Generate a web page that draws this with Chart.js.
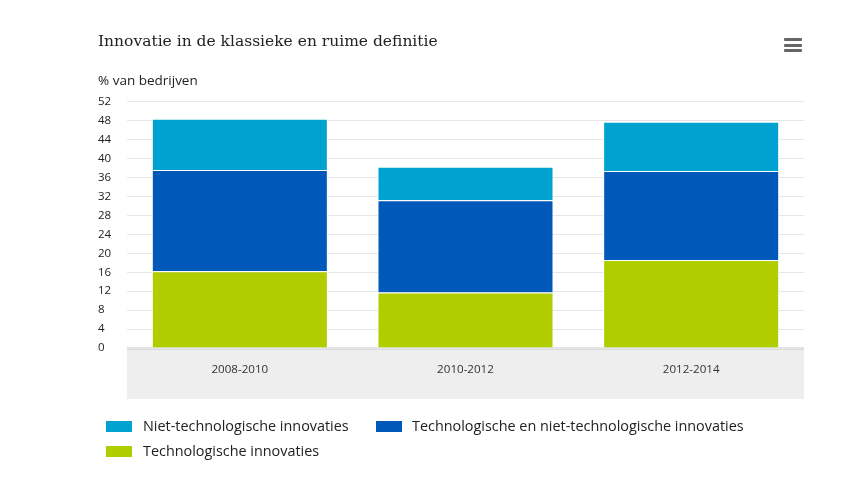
<!DOCTYPE html>
<html lang="nl">
<head>
    <meta charset="UTF-8">
    <title>Innovatie in de klassieke en ruime definitie</title>
    <script src="https://cdn.jsdelivr.net/npm/chart.js"></script>
    <style>
        html, body { margin: 0; padding: 0; background: #fff; }
        #wrap { position: relative; width: 841px; height: 489px; overflow: hidden; }
        canvas { position: absolute; left: 0; top: 0; }
        #menu { position: absolute; left: 784px; top: 38px; width: 18px; }
        #menu span { display: block; height: 3px; margin-bottom: 2.5px; background: #666; border-radius: 1px; }
        .leg { position: absolute; font: 14.4px "Open Sans", sans-serif; color: #222; white-space: nowrap; line-height: 20px; }
        .leg i { position: absolute; left: 0; top: 5px; width: 26px; height: 11px; }
    </style>
</head>
<body>
<div id="wrap">
    <canvas id="chart" width="841" height="489"></canvas>
    <div id="menu"><span></span><span></span><span></span></div>
</div>
<script>
    const periods = ['2008-2010', '2010-2012', '2012-2014'];
    const techValues = [16.2, 11.7, 18.6];
    const bothValues = [21.4, 19.5, 18.8];
    const nonTechValues = [10.8, 7.1, 10.4];

    const techLabel = 'Technologische innovaties';
    const bothLabel = 'Technologische en niet-technologische innovaties';
    const nonTechLabel = 'Niet-technologische innovaties';

    const techColor = '#b0cd00';
    const bothColor = '#0059b8';
    const nonTechColor = '#00a3d0';

    // grey band below the axis, behind the year labels
    const bandPlugin = {
        id: 'band',
        beforeDraw(chart) {
            const a = chart.chartArea;
            const c = chart.ctx;
            c.save();
            c.fillStyle = '#eeeeee';
            c.fillRect(a.left, a.bottom, a.right - a.left, 51);
            c.fillStyle = '#c8c8c8';
            c.fillRect(a.left, a.bottom - 0.5, a.right - a.left, 2);
            c.restore();
        }
    };

    function bars(label, data, color) {
        return {
            label: label,
            data: data,
            backgroundColor: color,
            borderColor: '#ffffff',
            borderWidth: 1,
            barPercentage: 0.78,
            categoryPercentage: 1
        };
    }

    new Chart(document.getElementById('chart'), {
        type: 'bar',
        data: {
            labels: periods,
            datasets: [
                bars(techLabel, techValues, techColor),
                bars(bothLabel, bothValues, bothColor),
                bars(nonTechLabel, nonTechValues, nonTechColor)
            ]
        },
        plugins: [bandPlugin],
        options: {
            responsive: false,
            animation: false,
            layout: { padding: { left: 98, right: 37, top: 33, bottom: 90 } },
            plugins: {
                legend: { display: false },
                tooltip: { enabled: false },
                title: {
                    display: true,
                    text: 'Innovatie in de klassieke en ruime definitie',
                    align: 'start',
                    color: '#222',
                    font: { family: 'DejaVu Serif', size: 15.5, weight: 'normal' },
                    padding: { top: 0, bottom: 21 }
                },
                subtitle: {
                    display: true,
                    text: '% van bedrijven',
                    align: 'start',
                    color: '#222',
                    font: { family: 'Open Sans', size: 13.5, weight: 'normal' },
                    padding: { top: 0, bottom: 13 }
                }
            },
            scales: {
                x: {
                    stacked: true,
                    grid: { display: false },
                    border: { display: false },
                    afterFit(axis) { axis.height = 51; },
                    ticks: {
                        color: '#333',
                        padding: 7,
                        maxRotation: 0,
                        font: { family: 'Open Sans', size: 11.6 }
                    }
                },
                y: {
                    stacked: true,
                    min: 0,
                    max: 52,
                    afterFit(axis) { axis.width = 29; },
                    grid: { color: '#e6e6e6', lineWidth: 1, drawTicks: false },
                    border: { display: false },
                    ticks: {
                        stepSize: 4,
                        color: '#222',
                        padding: 0,
                        crossAlign: 'far',
                        font: { family: 'Open Sans', size: 11.5 }
                    }
                }
            }
        }
    });

    // legend in the original order, not the stacking order
    const legendEntries = [
        [nonTechLabel, nonTechColor, 106, 416, 37],
        [bothLabel, bothColor, 376, 416, 36],
        [techLabel, techColor, 106, 441, 37]
    ];
    legendEntries.forEach(function (e) {
        const el = document.createElement('div');
        el.className = 'leg';
        el.style.left = e[2] + 'px';
        el.style.top = e[3] + 'px';
        el.style.paddingLeft = e[4] + 'px';
        el.innerHTML = '<i style="background:' + e[1] + '"></i>' + e[0];
        document.getElementById('wrap').appendChild(el);
    });
</script>
</body>
</html>
